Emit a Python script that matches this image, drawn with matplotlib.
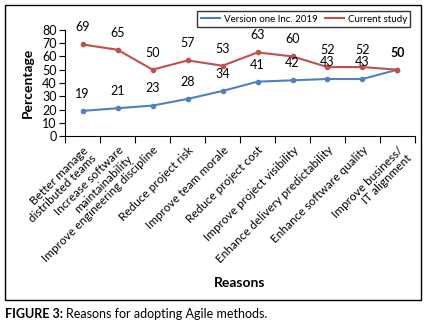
import matplotlib
matplotlib.use("Agg")
import matplotlib.pyplot as plt
from matplotlib.patches import Rectangle

plt.rcParams['font.family'] = ['Lato', 'DejaVu Sans']

reasons = [
    "Better manage\ndistributed teams",
    "Increase software\nmaintainability",
    "Improve engineering discipline",
    "Reduce project risk",
    "Improve team morale",
    "Reduce project cost",
    "Improve project visibility",
    "Enhance delivery predictability",
    "Enhance software quality",
    "Improve business/\nIT alignment",
]
version_one = [19, 21, 23, 28, 34, 41, 42, 43, 43, 50]
current_study = [69, 65, 50, 57, 53, 63, 60, 52, 52, 50]

blue = "#4F81BD"
red = "#C0504D"

fig = plt.figure(figsize=(4.26, 3.28), dpi=100)
ax = fig.add_axes([0.153, 0.585, 0.821, 0.324])

x = list(range(len(reasons)))
ax.plot(x, version_one, color=blue, lw=1.5, marker='o', ms=3, label="Version one Inc. 2019")
ax.plot(x, current_study, color=red, lw=1.5, marker='o', ms=3, label="Current study")

for i, (b, r) in enumerate(zip(version_one, current_study)):
    if b == r:
        ax.annotate(str(r), (i, r), xytext=(0, 8), textcoords='offset points',
                    ha='center', va='bottom', fontsize=9, fontweight='bold')
        continue
    ax.annotate(str(r), (i, r), xytext=(0, 8), textcoords='offset points',
                ha='center', va='bottom', fontsize=9)
    ax.annotate(str(b), (i, b), xytext=(0, 8), textcoords='offset points',
                ha='center', va='bottom', fontsize=9)

ax.set_xlim(-0.5, len(reasons) - 0.5)
ax.set_ylim(0, 80)
ax.set_yticks(range(0, 81, 10))
ax.set_xticks([i - 0.5 for i in range(len(reasons) + 1)])
ax.set_xticklabels([])
ax.set_xticks(x, minor=True)
ax.set_xticklabels(reasons, minor=True, rotation=45, ha='right', va='top',
                   rotation_mode='anchor', fontsize=8.5, linespacing=1.1)
ax.tick_params(axis='x', which='minor', length=0, pad=6)
ax.tick_params(axis='x', which='major', length=5, direction='out')
ax.tick_params(axis='y', length=4, labelsize=9, pad=2)
for s in ['top', 'right']:
    ax.spines[s].set_visible(False)

ax.set_ylabel("Percentage", fontsize=10, fontweight='bold', labelpad=6)
fig.text(0.563, 0.137, "Reasons", ha='center', va='center', fontsize=10, fontweight='bold')

leg = fig.legend(loc='upper right', bbox_to_anchor=(0.975, 0.98), ncol=2, fontsize=7,
                 frameon=True, fancybox=False, edgecolor='black', handlelength=2.0,
                 columnspacing=0.7, borderpad=0.35, handletextpad=0.4)
for h in leg.legend_handles:
    h.set_marker('')

fig.patches.append(Rectangle((5 / 426, 1 - 300 / 328), 416 / 426, 295 / 328,
                             transform=fig.transFigure, fill=False, ec='black', lw=1))

# caption: bold prefix followed by regular text
cap_y = 1 - 314 / 328
t1 = fig.text(5 / 426, cap_y, "FIGURE 3:", ha='left', va='center', fontsize=9, fontweight='bold')
renderer = fig.canvas.get_renderer()
bb = t1.get_window_extent(renderer=renderer)
fig.text(bb.x1 / fig.bbox.width + 3 / 426, cap_y, "Reasons for adopting Agile methods.",
         ha='left', va='center', fontsize=9)

fig.savefig("out.png", dpi=100)
